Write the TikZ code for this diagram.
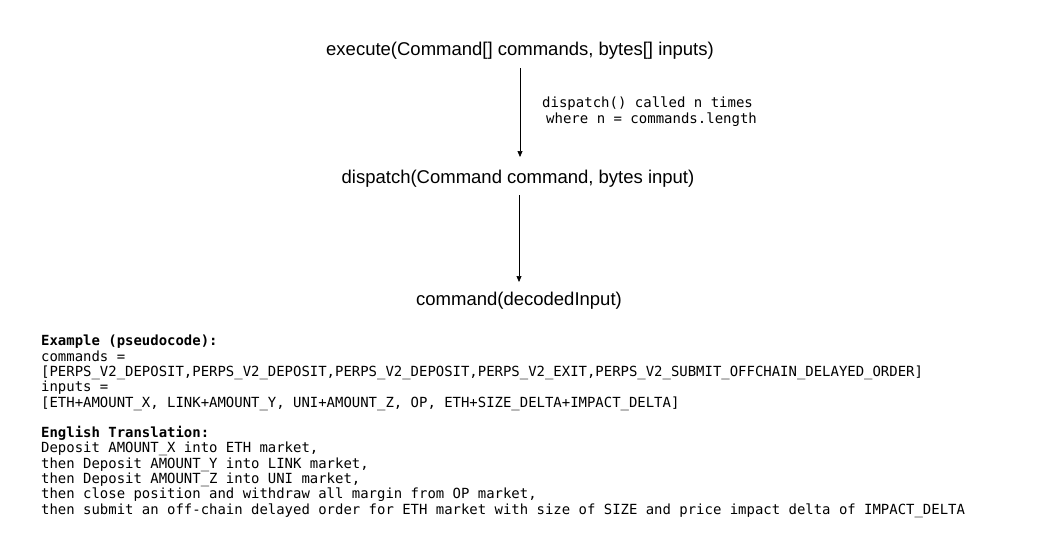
\documentclass[tikz,border=0pt]{standalone}
\usepackage{fontspec}
\setmainfont{Liberation Sans}
\newfontfamily\codefont{DejaVu Sans Mono}
\usetikzlibrary{arrows.meta}
\begin{document}
\begin{tikzpicture}[x=1pt,y=-1pt,
  fn/.style={font=\fontsize{18.5}{22}\selectfont, inner sep=0pt, text=black},
  flow/.style={draw=black, line width=0.7pt, -{Triangle[length=6pt,width=5pt]}},
  note/.style={font=\codefont\fontsize{14}{15.5}\selectfont, align=left, inner sep=0pt, anchor=north west},
  code/.style={font=\codefont\fontsize{13.95}{15.3}\selectfont, align=left, inner sep=0pt, anchor=north west}]
\useasboundingbox (0,0) rectangle (1039,555);
\fill[white] (0,0) rectangle (1039,555);
\node[fn] (exec) at (520,51) {execute(Command[] commands, bytes[] inputs)};
\node[fn] (disp) at (518,179) {dispatch(Command command, bytes input)};
\node[fn] (cmd) at (519,301) {command(decodedInput)};
\coordinate (a1s) at (520,68);
\coordinate (a1e) at (520,157);
\coordinate (a2s) at (519,195);
\coordinate (a2e) at (519,282);
\draw[flow] (a1s) -- (a1e);
\draw[flow] (a2s) -- (a2e);
\node[note] (ann) at (542,97) {dispatch() called n times\\\hspace*{4pt}where n = commands.length};
\node[code] (ex) at (41,335) {\textbf{Example (pseudocode):}\\
commands =\\
{[}PERPS\_V2\_DEPOSIT,PERPS\_V2\_DEPOSIT,PERPS\_V2\_DEPOSIT,PERPS\_V2\_EXIT,PERPS\_V2\_SUBMIT\_OFFCHAIN\_DELAYED\_ORDER]\\
inputs =\\
{[}ETH+AMOUNT\_X, LINK+AMOUNT\_Y, UNI+AMOUNT\_Z, OP, ETH+SIZE\_DELTA+IMPACT\_DELTA]\\[15.3pt]
\textbf{English Translation:}\\
Deposit AMOUNT\_X into ETH market,\\
then Deposit AMOUNT\_Y into LINK market,\\
then Deposit AMOUNT\_Z into UNI market,\\
then close position and withdraw all margin from OP market,\\
then submit an off-chain delayed order for ETH market with size of SIZE and price impact delta of IMPACT\_DELTA};
\end{tikzpicture}
\end{document}
